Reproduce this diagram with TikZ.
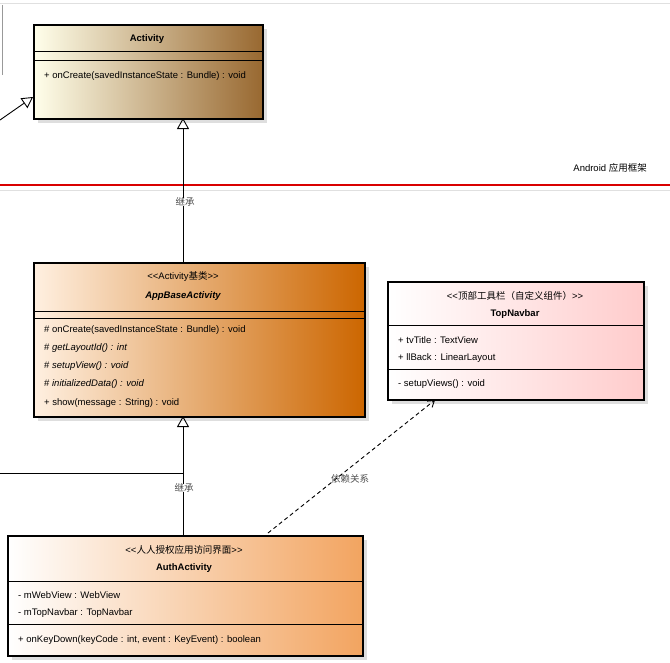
\documentclass[tikz,border=0pt]{standalone}
\usepackage{fontspec}
\setmainfont{Liberation Sans}[Ligatures=NoCommon]
\newfontfamily\cjk{Noto Sans CJK SC}
\usetikzlibrary{arrows.meta}
\definecolor{actbrown}{HTML}{986830}
\definecolor{baseorange}{HTML}{CC6600}
\definecolor{authorange}{HTML}{F2A460}
\begin{document}
\begin{tikzpicture}[x=1pt,y=-1pt,
  box/.style={draw,line width=2pt,anchor=north west,inner sep=0pt},
  txt/.style={font=\fontsize{9.5}{11}\selectfont,inner sep=0pt},
  member/.style={txt,anchor=west},
  gen/.style={-{Triangle[open,length=11pt,width=12pt]},line width=0.9pt},
  dep/.style={dash pattern=on 4pt off 3pt,-{Straight Barb[length=6pt,width=8pt]},line width=0.9pt}]
  \useasboundingbox (0,0) rectangle (670,662);
  % frame of the neighbouring package
  \draw[black!12,line width=1pt] (0,3) -- (670,3);
  \draw[black!40] (2,5) -- (2,75);
  \draw[red!85!black,line width=1.4pt] (0,185) -- (670,185);
  \draw[black!12,line width=1pt] (0,190) -- (670,190);
  \node[txt,anchor=east] (fw) at (647,168) {Android {\cjk 应用框架}};
  % shadows
  \foreach \x/\y/\w/\h in {33/24/229/94, 33/262/331/154, 387/281/256/118, 7/535/355/120}
    \fill[black!13] (\x+5,\y+5) rectangle ++(\w,\h);
  % classes
  \node[box,minimum width=229pt,minimum height=94pt,left color=yellow!8!white,right color=actbrown] (act) at (33,24) {};
  \node[box,minimum width=331pt,minimum height=154pt,left color=orange!12!white,right color=baseorange] (base) at (33,262) {};
  \node[box,minimum width=256pt,minimum height=118pt,left color=white,right color=red!20!white] (nav) at (387,281) {};
  \node[box,minimum width=355pt,minimum height=120pt,left color=white,right color=authorange] (auth) at (7,535) {};
  % Activity
  \node[txt,font=\fontsize{9.5}{11}\selectfont\bfseries] (actname) at (147,39) {Activity};
  \draw[thick] (33,51) -- (262,51) (33,60) -- (262,60);
  \node[member] (actm1) at (44,76) {+ onCreate(savedInstanceState : Bundle) : void};
  % AppBaseActivity
  \node[txt] (basest) at (183,276) {{<}{<}Activity{\cjk 基类}{>}{>}};
  \node[txt,font=\fontsize{9.5}{11}\selectfont\bfseries\itshape] (basename) at (183,296) {AppBaseActivity};
  \draw[thick] (33,311) -- (364,311) (33,318) -- (364,318);
  \node[member] (basem1) at (44,330) {\# onCreate(savedInstanceState : Bundle) : void};
  \node[member] (basem2) at (44,348) {\# \textit{getLayoutId() : int}};
  \node[member] (basem3) at (44,366) {\# \textit{setupView() : void}};
  \node[member] (basem4) at (44,384) {\# \textit{initializedData() : void}};
  \node[member] (basem5) at (44,403) {+ show(message : String) : void};
  % TopNavbar
  \node[txt] (navst) at (515,296) {{<}{<}{\cjk 顶部工具栏（自定义组件）}{>}{>}};
  \node[txt,font=\fontsize{9.5}{11}\selectfont\bfseries] (navname) at (515,314) {TopNavbar};
  \draw[thick] (387,325) -- (643,325) (387,369) -- (643,369);
  \node[member] (nava1) at (398,340) {+ tvTitle : TextView};
  \node[member] (nava2) at (398,358) {+ llBack : LinearLayout};
  \node[member] (navm1) at (398,384) {- setupViews() : void};
  % AuthActivity
  \node[txt] (authst) at (184,550) {{<}{<}{\cjk 人人授权应用访问界面}{>}{>}};
  \node[txt,font=\fontsize{9.5}{11}\selectfont\bfseries] (authname) at (184,568) {AuthActivity};
  \draw[thick] (7,581) -- (362,581) (7,624) -- (362,624);
  \node[member] (autha1) at (18,595) {- mWebView : WebView};
  \node[member] (autha2) at (18,613) {- mTopNavbar : TopNavbar};
  \node[member] (authm1) at (18,640) {+ onKeyDown(keyCode : int, event : KeyEvent) : boolean};
  % relations
  \coordinate (c1) at (0,120);
  \coordinate (c2) at (33,97);
  \coordinate (c3) at (0,473);
  \coordinate (c4) at (183,473);
  \coordinate (actb) at (183,118);
  \coordinate (baset) at (183,262);
  \coordinate (baseb) at (183,416);
  \coordinate (autht) at (183,535);
  \coordinate (dstart) at (268,533);
  \coordinate (dend) at (435,400);
  \draw[gen] (c1) -- (c2);
  \draw[gen] (baset) -- (actb);
  \draw[gen] (autht) -- (baseb);
  \draw[line width=0.9pt] (c3) -- (c4);
  \draw[dep] (dstart) -- (dend);
  \node[txt,fill=white,text=black!70] (inh1) at (185,202) {\cjk 继承};
  \node[txt,fill=white,text=black!70] (inh2) at (184,488) {\cjk 继承};
  \node[txt,text=black!70] (deplbl) at (350,479) {\cjk 依赖关系};
\end{tikzpicture}
\end{document}
